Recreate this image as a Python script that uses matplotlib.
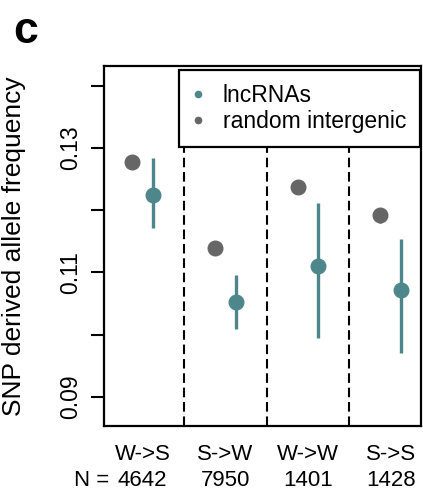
import matplotlib
matplotlib.use("Agg")
import matplotlib.pyplot as plt
from matplotlib.lines import Line2D
from matplotlib.transforms import blended_transform_factory
import numpy as np

plt.rcParams['font.family'] = ['Liberation Sans', 'DejaVu Sans']

# data
groups = ["W->S", "S->W", "W->W", "S->S"]
counts = ["4642", "7950", "1401", "1428"]

lnc_mean = [0.1224, 0.1053, 0.1110, 0.1071]
lnc_low = [0.1171, 0.1009, 0.0995, 0.0970]
lnc_high = [0.1284, 0.1096, 0.1212, 0.1153]

rnd_mean = [0.1277, 0.1139, 0.1238, 0.1193]
rnd_low = [0.1271, 0.1133, 0.1232, 0.1180]
rnd_high = [0.1283, 0.1145, 0.1244, 0.1200]

teal = "#4e878b"
grey = "#666666"

fig = plt.figure(figsize=(4.23, 4.91), dpi=100)
ax = fig.add_axes([104 / 423, 65 / 491, 317 / 423, 360 / 491])

x = np.arange(1, len(groups) + 1)

# random intergenic (left) and lncRNAs (right)
ax.errorbar(x - 0.125, rnd_mean,
            yerr=[np.subtract(rnd_mean, rnd_low), np.subtract(rnd_high, rnd_mean)],
            fmt="o", color=grey, ms=10.5, elinewidth=2.4, capsize=0, zorder=3)
ax.errorbar(x + 0.125, lnc_mean,
            yerr=[np.subtract(lnc_mean, lnc_low), np.subtract(lnc_high, lnc_mean)],
            fmt="o", color=teal, ms=10.5, elinewidth=2.4, capsize=0, zorder=3)

for xv in x[:-1] + 0.5:
	ax.axvline(xv, color="black", lw=1.5, ls=(0, (4.6, 2.3)), zorder=1)

ax.set_xlim(0.533, 4.367)
ax.set_ylim(0.0853, 0.1432)

yt = [0.09, 0.10, 0.11, 0.12, 0.13, 0.14]
ax.set_yticks(yt)
ax.set_yticklabels(["0.09", "", "0.11", "", "0.13", ""], rotation=90, va="center")
ax.tick_params(axis="y", length=9.5, width=1.5, pad=6, labelsize=16.5)

ax.set_xticks(x)
ax.set_xticklabels(groups)
ax.tick_params(axis="x", length=0, pad=13, labelsize=16)

for sp in ax.spines.values():
	sp.set_linewidth(1.6)

trans = blended_transform_factory(ax.transData, ax.transAxes)
for xi, n in zip(x, counts):
	ax.text(xi, -0.15, n, transform=trans, ha="center", va="center", fontsize=16)
ax.text(0.593, -0.15, "N =", transform=trans, ha="right", va="center", fontsize=16)

fig.text(14 / 423, 1 - 246 / 491, "SNP derived allele frequency", rotation=90,
         ha="center", va="center", fontsize=19)

fig.text(13 / 423, 1 - 43 / 491, "c", fontsize=32, fontweight="bold", ha="left", va="baseline")

handles = [
	Line2D([], [], ls="none", marker="o", ms=4.5, color=teal),
	Line2D([], [], ls="none", marker="o", ms=4.5, color=grey),
]
leg = ax.legend(handles, ["lncRNAs", "random intergenic"], loc="upper right",
                bbox_to_anchor=(0.997, 0.989), borderaxespad=0, fontsize=16.5,
                frameon=True, fancybox=False, handlelength=0.45, handletextpad=0.85,
                borderpad=0.6, labelspacing=0.15)
leg.get_frame().set_edgecolor("black")
leg.get_frame().set_linewidth(1.6)
leg.get_frame().set_alpha(1)
leg.set_zorder(5)

fig.savefig("out.png", dpi=100)
